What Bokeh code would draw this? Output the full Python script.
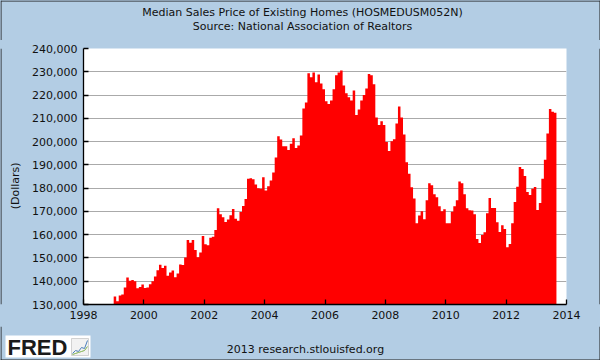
import numpy as np
import pandas as pd
from bokeh.plotting import figure
from bokeh.layouts import column, row
from bokeh.models import FixedTicker, NumeralTickFormatter, Range1d
from bokeh.core.properties import value
from bokeh.embed import file_html
from bokeh.resources import INLINE

# ---------------- data (monthly median price, dollars) ----------------
first_month = "1999-01"
p1999 = [133400, 131400, 133900, 134300, 137300, 141600, 140200, 140500, 140000, 137000, 137500, 138600]
p2000 = [137100, 137300, 138700, 140000, 142000, 144700, 147100, 145700, 146700, 142400, 143700, 144600]
p2001 = [141700, 143300, 147200, 147000, 150200, 157700, 156500, 157700, 153400, 150300, 152300, 159400]
p2002 = [155900, 155500, 158700, 159100, 162000, 171400, 168800, 167500, 165500, 166500, 168400, 171000]
p2003 = [166800, 166000, 169700, 172300, 175300, 184000, 184200, 183800, 181600, 180000, 179700, 184700]
p2004 = [179000, 180800, 183300, 186700, 193200, 202300, 200900, 198000, 198000, 196400, 199100, 201400]
p2005 = [197200, 198300, 202600, 214200, 216800, 229400, 227600, 229700, 225500, 228800, 225000, 222500]
p2006 = [217300, 216100, 217700, 222500, 228500, 229700, 230600, 224100, 220800, 219000, 217700, 222000]
p2007 = [211400, 213800, 217700, 220000, 222800, 229000, 228500, 224600, 210400, 207100, 208700, 207100]
p2008 = [199800, 196000, 200100, 201000, 207800, 215100, 210400, 203100, 191100, 186200, 180400, 175600]
p2009 = [164900, 168200, 170100, 166600, 174800, 182100, 181200, 177400, 176100, 172200, 170100, 170900]
p2010 = [164900, 164900, 169800, 172200, 174800, 182900, 182100, 177400, 171400, 170500, 170400, 168800]
p2011 = [158100, 156400, 159900, 161000, 169200, 175800, 171500, 171500, 165300, 161100, 164100, 162400]
p2012 = [154600, 156000, 164900, 174000, 180600, 189100, 188200, 185200, 178300, 177000, 179700, 180500]
p2013 = [170600, 173600, 184000, 192200, 203500, 214000, 212800, 212400]

x_ticks = [1998, 2000, 2002, 2004, 2006, 2008, 2010, 2012, 2014]
y_ticks = [130000, 140000, 150000, 160000, 170000, 180000, 190000,
           200000, 210000, 220000, 230000, 240000]

title_1 = "Median Sales Price of Existing Homes (HOSMEDUSM052N)"
title_2 = "Source: National Association of Realtors"
y_label = "(Dollars)"
footer = "2013 research.stlouisfed.org"
logo = "FRED"

# ---------------- build ----------------
prices = (p1999 + p2000 + p2001 + p2002 + p2003 + p2004 + p2005 + p2006 +
          p2007 + p2008 + p2009 + p2010 + p2011 + p2012 + p2013)
months = pd.date_range(first_month, periods=len(prices), freq="MS")
m_start = np.asarray(months.year + (months.month - 1) / 12.0, dtype=float)
m_end = m_start + 1 / 12.0

# one step-shaped red area: each month is a flat bar from its start to its end
step_x = [m_start[0]]
step_y = [0]
for a, b, v in zip(m_start, m_end, prices):
    step_x += [a, b]
    step_y += [v, v]
step_x.append(m_end[-1])
step_y.append(0)

BG = "#B3CDE4"
EDGE = "#1E1E1E"
FONT = "DejaVu Sans"
W, H = 600, 360
TOP_H, MID_H = 40, 286
BOT_H = H - TOP_H - MID_H
LEFT_W, RIGHT_W = 28, 10
MAIN_W = W - LEFT_W - RIGHT_W


def strip(w, h):
    """A plain pixel-space panel used for the decorative texts."""
    f = figure(width=w, height=h, x_range=Range1d(0, w), y_range=Range1d(h, 0),
               output_backend="svg", toolbar_location=None,
               min_border=0, min_border_left=0, min_border_right=0,
               min_border_top=0, min_border_bottom=0,
               background_fill_color=BG, border_fill_color=BG)
    f.axis.visible = False
    f.grid.visible = False
    f.outline_line_color = None
    f.styles = {"background-color": BG}
    return f


def put_text(f, txt, x, y, size="11px", angle=0.0, style="normal", font=FONT,
             align="center", color="#111111"):
    f.text(x=[x], y=[y], text=[txt], angle=angle, text_align=align,
           text_baseline="middle", text_font=value(font),
           text_font_size=value(size), text_font_style=style, text_color=color)


def edge(f, xs, ys):
    f.line(x=xs, y=ys, line_color=EDGE, line_width=1)


# top strip: titles
top = strip(W, TOP_H)
put_text(top, title_1, 302, 12)
put_text(top, title_2, 302, 26)
edge(top, [0.5, W - 0.5], [0.5, 0.5])
edge(top, [0.5, 0.5], [0, TOP_H])
edge(top, [W - 0.5, W - 0.5], [0, TOP_H])

# left strip: y-axis title
left = strip(LEFT_W, MID_H)
put_text(left, y_label, 15, 193.5 - TOP_H, angle=np.pi / 2)
edge(left, [0.5, 0.5], [0, MID_H])

# right strip
right = strip(RIGHT_W, MID_H)
edge(right, [RIGHT_W - 0.5, RIGHT_W - 0.5], [0, MID_H])

# main chart
p = figure(width=MAIN_W, height=MID_H, x_range=(x_ticks[0], x_ticks[-1]),
           y_range=(y_ticks[0], y_ticks[-1]), output_backend="svg",
           toolbar_location=None, min_border_left=55, min_border_right=24,
           min_border_top=8, min_border_bottom=22,
           background_fill_color="white", border_fill_color=BG)
p.outline_line_color = None
p.styles = {"background-color": BG}

p.patch(step_x, step_y, fill_color="#FF0000", line_color=None)

p.xaxis.ticker = FixedTicker(ticks=x_ticks)
p.yaxis.ticker = FixedTicker(ticks=y_ticks)
p.yaxis.formatter = NumeralTickFormatter(format="0,0")
for ax in (p.xaxis[0], p.yaxis[0]):
    ax.major_tick_in = 5
    ax.major_tick_out = 0
    ax.minor_tick_line_color = None
    ax.axis_line_color = "black"
    ax.axis_line_width = 1.3
    ax.major_tick_line_color = "black"
    ax.major_tick_line_width = 1.3
    ax.major_label_text_font = FONT
    ax.major_label_text_font_size = "11px"
    ax.major_label_text_color = "#111111"
    ax.major_label_standoff = 6

p.xgrid.visible = False
p.ygrid.ticker = FixedTicker(ticks=y_ticks)
p.ygrid.grid_line_color = "#AAAAAA"
p.ygrid.grid_line_width = 1.2

# bottom strip: logo + footer
bot = strip(W, BOT_H)
bot.rect(x=[47.5], y=[20], width=[85], height=[22], fill_color="white", line_color=None)
put_text(bot, logo, 7, 20.5, size="22px", style="bold", font="Liberation Sans",
         align="left", color="#1A1A1A")
bot.rect(x=[79.5], y=[20.5], width=[17], height=[17], fill_color="#F2F2F2",
         line_color="#C8C8C8", line_width=0.8)
bot.line(x=[72, 75, 78, 81, 84, 87], y=[27, 24, 25, 21, 22, 14],
         line_color="#4A7EBB", line_width=1)
bot.line(x=[72, 75, 78, 81, 84, 87], y=[28, 27, 26, 25, 24, 20],
         line_color="#7FB24A", line_width=1)
put_text(bot, footer, 305, 23)
edge(bot, [0.5, 0.5], [0, BOT_H])
edge(bot, [W - 0.5, W - 0.5], [0, BOT_H])
edge(bot, [0, W], [BOT_H - 0.5, BOT_H - 0.5])

mid = row(left, p, right, spacing=0, styles={"background-color": BG})
layout = column(top, mid, bot, spacing=0, styles={"background-color": BG})
open("out.html", "w").write(file_html(layout, INLINE))
